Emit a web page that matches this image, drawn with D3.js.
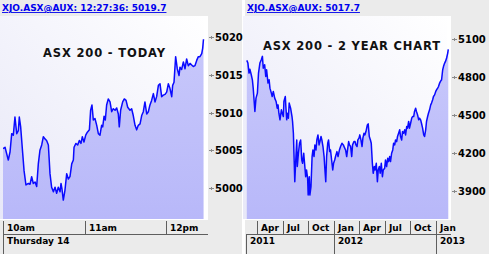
<!DOCTYPE html>
<html>
<head>
<meta charset="utf-8">
<script src="https://cdn.jsdelivr.net/npm/d3@7"></script>
<style>
body { margin: 0; background: #fff; }
svg { display: block; font-family: "DejaVu Sans", Verdana, sans-serif; }
</style>
</head>
<body>
<div id="chart"></div>
<script>
// intraday: minutes after 10:00 and index level
const todayMinutes = [0, 1.5, 3.9, 5.2, 6.4, 7.6, 8.8, 10.1, 11.3, 12.0,
	13.0, 14.5, 15.5, 16.9, 18.7, 19.9, 21.1, 22.3, 23.6, 24.8,
	26.0, 27.2, 28.5, 29.7, 30.9, 32.1, 33.4, 34.6, 35.8, 37.1,
	38.3, 39.5, 40.7, 42.0, 42.7, 43.4, 44.4, 45.6, 46.9, 48.1,
	49.3, 50.6, 51.8, 52.3, 53.7, 55.0, 56.2, 57.4, 58.4, 59.6,
	60.9, 62.1, 63.6, 64.5, 65.5, 66.5, 67.7, 69.0, 70.2, 71.4,
	72.6, 73.4, 74.4, 75.3, 76.3, 77.5, 78.8, 80.0, 81.2, 82.5,
	83.7, 84.9, 85.6, 86.6, 88.1, 89.3, 90.6, 91.8, 93.5, 94.7,
	95.9, 97.2, 98.4, 99.6, 100.9, 102.1, 103.3, 104.5, 105.8, 107.0,
	108.2, 109.4, 110.7, 111.9, 113.1, 114.4, 115.6, 116.8, 118.0, 119.3,
	120.5, 121.7, 122.9, 124.2, 124.9, 125.9, 127.1, 128.3, 129.6, 130.3,
	131.5, 132.8, 134.0, 135.2, 136.4, 137.7, 138.9, 140.1, 141.3, 142.6,
	143.8, 145.0, 146.3, 147.0, 147.6];
const todayValues = [5005.2, 5005.4, 5003.7, 5004.8, 5007.2, 5007.0, 5009.4, 5007.2, 5007.6, 5009.4,
	5008.1, 5004.6, 5002.3, 5000.4, 5000.6, 5000.5, 5001.5, 5000.6, 5000.8, 5000.2,
	5003.2, 5005.0, 5005.7, 5006.8, 5006.5, 5006.3, 5005.7, 5001.9, 5000.1, 4999.5,
	5000.1, 4999.3, 5000.1, 4999.5, 5000.6, 4999.9, 4998.4, 4999.7, 5001.9, 5001.2,
	5001.5, 5003.2, 5003.7, 5005.4, 5005.9, 5005.7, 5006.3, 5005.9, 5006.8, 5006.1,
	5007.0, 5007.4, 5007.7, 5010.3, 5011.0, 5009.0, 5009.2, 5008.3, 5007.2, 5007.0,
	5008.3, 5008.1, 5009.5, 5009.0, 5011.0, 5011.8, 5011.4, 5010.1, 5010.5, 5010.3,
	5010.6, 5009.8, 5008.1, 5010.3, 5011.4, 5011.8, 5011.6, 5010.7, 5010.3, 5010.5,
	5009.6, 5008.3, 5007.7, 5008.3, 5008.5, 5009.6, 5010.1, 5011.4, 5009.8, 5010.1,
	5011.0, 5011.6, 5012.5, 5011.4, 5012.1, 5013.6, 5013.8, 5012.1, 5012.3, 5012.4,
	5012.7, 5013.8, 5013.2, 5012.1, 5013.6, 5014.0, 5017.4, 5015.8, 5014.9, 5016.0,
	5015.7, 5016.7, 5015.8, 5017.1, 5016.2, 5016.5, 5016.3, 5016.1, 5016.2, 5016.9,
	5017.4, 5017.4, 5017.8, 5018.5, 5019.7];
const todayTicks = [5000, 5005, 5010, 5015, 5020];
const todayHourLabels = ['10am', '11am', '12pm'];
const todayDayLabel = 'Thursday 14';

// two years: date and close
const yearDates = ['2011-02-23', '2011-02-27', '2011-03-03', '2011-03-06', '2011-03-11', '2011-03-15', '2011-03-18', '2011-03-21', '2011-03-24', '2011-03-28',
	'2011-04-02', '2011-04-06', '2011-04-11', '2011-04-16', '2011-04-20', '2011-04-23', '2011-04-28', '2011-05-02', '2011-05-05', '2011-05-10',
	'2011-05-14', '2011-05-17', '2011-05-22', '2011-05-25', '2011-05-29', '2011-06-03', '2011-06-08', '2011-06-12', '2011-06-15', '2011-06-18',
	'2011-06-22', '2011-06-27', '2011-06-30', '2011-07-04', '2011-07-06', '2011-07-11', '2011-07-13', '2011-07-16', '2011-07-18', '2011-07-22',
	'2011-07-25', '2011-07-30', '2011-08-04', '2011-08-06', '2011-08-09', '2011-08-11', '2011-08-14', '2011-08-17', '2011-08-21', '2011-08-23',
	'2011-08-27', '2011-08-31', '2011-09-04', '2011-09-08', '2011-09-11', '2011-09-15', '2011-09-18', '2011-09-22', '2011-09-25', '2011-09-29',
	'2011-10-01', '2011-10-05', '2011-10-07', '2011-10-11', '2011-10-15', '2011-10-18', '2011-10-22', '2011-10-25', '2011-10-29', '2011-11-01',
	'2011-11-05', '2011-11-09', '2011-11-12', '2011-11-16', '2011-11-19', '2011-11-23', '2011-11-27', '2011-11-30', '2011-12-03', '2011-12-06',
	'2011-12-10', '2011-12-13', '2011-12-17', '2011-12-20', '2011-12-24', '2011-12-28', '2011-12-31', '2012-01-04', '2012-01-07', '2012-01-12',
	'2012-01-16', '2012-01-21', '2012-01-25', '2012-01-30', '2012-02-04', '2012-02-09', '2012-02-12', '2012-02-16', '2012-02-19', '2012-02-23',
	'2012-02-26', '2012-03-01', '2012-03-05', '2012-03-08', '2012-03-13', '2012-03-17', '2012-03-20', '2012-03-24', '2012-03-27', '2012-03-31',
	'2012-04-03', '2012-04-07', '2012-04-11', '2012-04-14', '2012-04-18', '2012-04-21', '2012-04-25', '2012-04-30', '2012-05-03', '2012-05-07',
	'2012-05-11', '2012-05-14', '2012-05-18', '2012-05-21', '2012-05-25', '2012-05-28', '2012-06-01', '2012-06-05', '2012-06-08', '2012-06-12',
	'2012-06-15', '2012-06-19', '2012-06-23', '2012-06-26', '2012-07-01', '2012-07-04', '2012-07-08', '2012-07-12', '2012-07-15', '2012-07-19',
	'2012-07-22', '2012-07-26', '2012-07-30', '2012-08-02', '2012-08-06', '2012-08-09', '2012-08-13', '2012-08-16', '2012-08-20', '2012-08-24',
	'2012-08-27', '2012-08-31', '2012-09-03', '2012-09-07', '2012-09-11', '2012-09-14', '2012-09-18', '2012-09-21', '2012-09-25', '2012-09-28',
	'2012-10-02', '2012-10-06', '2012-10-09', '2012-10-13', '2012-10-16', '2012-10-20', '2012-10-23', '2012-10-27', '2012-10-31', '2012-11-03',
	'2012-11-07', '2012-11-10', '2012-11-14', '2012-11-18', '2012-11-21', '2012-11-25', '2012-11-28', '2012-12-02', '2012-12-05', '2012-12-09',
	'2012-12-13', '2012-12-16', '2012-12-20', '2012-12-23', '2012-12-27', '2012-12-31', '2013-01-03', '2013-01-07', '2013-01-10', '2013-01-14',
	'2013-01-17', '2013-01-21', '2013-01-25', '2013-01-28', '2013-02-01', '2013-02-04', '2013-02-08', '2013-02-12', '2013-02-14'];
const yearValues = [4931, 4910, 4831, 4862, 4818, 4778, 4712, 4620, 4528, 4633,
	4673, 4831, 4910, 4936, 4963, 4870, 4897, 4804, 4857, 4752,
	4778, 4712, 4673, 4646, 4686, 4633, 4607, 4554, 4580, 4514,
	4462, 4541, 4514, 4488, 4607, 4646, 4567, 4462, 4514, 4475,
	4594, 4554, 4488, 4449, 4356, 4198, 3974, 4119, 4303, 4093,
	4198, 4277, 4303, 4145, 4119, 4198, 4119, 4013, 4066, 4000,
	3868, 4013, 3868, 3934, 4172, 4224, 4172, 4264, 4224, 4303,
	4343, 4264, 4290, 4330, 4303, 4251, 4172, 4066, 3974, 4172,
	4277, 4303, 4211, 4224, 4145, 4066, 4119, 4145, 4172, 4211,
	4172, 4224, 4251, 4277, 4264, 4238, 4224, 4172, 4224, 4290,
	4264, 4251, 4172, 4264, 4290, 4290, 4264, 4251, 4303, 4317,
	4343, 4303, 4251, 4317, 4356, 4343, 4369, 4422, 4430, 4330,
	4303, 4277, 4119, 4040, 4093, 4066, 4119, 3974, 4066, 4093,
	4040, 4119, 4013, 4066, 4079, 4145, 4093, 4158, 4132, 4172,
	4132, 4198, 4224, 4277, 4264, 4303, 4290, 4330, 4356, 4383,
	4330, 4303, 4369, 4356, 4383, 4343, 4409, 4396, 4449, 4396,
	4435, 4475, 4488, 4488, 4528, 4554, 4528, 4501, 4462, 4475,
	4462, 4435, 4396, 4343, 4330, 4383, 4449, 4488, 4514, 4541,
	4580, 4594, 4620, 4646, 4659, 4686, 4699, 4712, 4725, 4752,
	4765, 4778, 4857, 4884, 4910, 4923, 4950, 4989, 5018];
const yearTicks = [3900, 4200, 4500, 4800, 5100];

const svg = d3.select('#chart').append('svg')
	.attr('width', 489)
	.attr('height', 254);

const defs = svg.append('defs');
var bgGrad = defs.append('linearGradient').attr('id', 'plotBg')
	.attr('x1', 1).attr('y1', 0).attr('x2', 0).attr('y2', 1);
bgGrad.append('stop').attr('offset', 0).attr('stop-color', '#ffffff');
bgGrad.append('stop').attr('offset', 1).attr('stop-color', '#e8e8f8');
var areaGrad = defs.append('linearGradient').attr('id', 'areaFill')
	.attr('x1', 0).attr('y1', 0).attr('x2', 0).attr('y2', 1);
areaGrad.append('stop').attr('offset', 0).attr('stop-color', '#c8c8fb');
areaGrad.append('stop').attr('offset', 1).attr('stop-color', '#b8b8f9');

const parseDay = d3.timeParse('%Y-%m-%d');
const openTime = new Date(2013, 1, 14, 10, 0);

var todayData = todayMinutes.map((m, i) => ({ date: new Date(+openTime + m * 60000), value: todayValues[i] }));
var yearData = yearDates.map((d, i) => ({ date: parseDay(d), value: yearValues[i] }));

function drawPanel(p) {
	var g = svg.append('g');

	g.append('rect')
		.attr('x', p.grayX).attr('y', 0)
		.attr('width', p.grayW).attr('height', 254)
		.attr('fill', '#ebebeb');

	// plot background
	g.append('rect')
		.attr('x', p.bgX).attr('y', 16)
		.attr('width', p.right - p.bgX).attr('height', 204)
		.attr('fill', '#ffffff');
	g.append('rect')
		.attr('x', p.bgX).attr('y', 16)
		.attr('width', p.right - 4 - p.bgX).attr('height', 203)
		.attr('fill', 'url(#plotBg)');

	// header link
	g.append('text')
		.attr('x', p.grayX + 2).attr('y', 11)
		.attr('font-size', 9).attr('font-weight', 'bold')
		.attr('fill', '#0000ee')
		.style('text-decoration', 'underline')
		.text(p.header);

	g.append('defs').append('clipPath').attr('id', p.id + 'clip')
		.append('rect')
		.attr('x', p.left).attr('y', 16)
		.attr('width', p.right - p.left).attr('height', 203);

	var x = p.x, y = p.y;
	var plot = g.append('g').attr('clip-path', 'url(#' + p.id + 'clip)');

	var area = d3.area()
		.x(d => x(d.date))
		.y0(219)
		.y1(d => y(d.value));
	var line = d3.line()
		.x(d => x(d.date))
		.y(d => y(d.value));

	plot.append('path')
		.datum(p.data)
		.attr('d', area)
		.attr('fill', 'url(#areaFill)');
	plot.append('path')
		.datum(p.data)
		.attr('d', line)
		.attr('fill', 'none')
		.attr('stroke', '#0a0aff')
		.attr('stroke-width', 1.5)
		.attr('stroke-linejoin', 'round');

	// title
	g.append('text')
		.attr('x', p.titleX).attr('y', p.titleY)
		.attr('font-size', 11.5).attr('font-weight', 'bold')
		.attr('fill', '#111')
		.attr('textLength', p.titleW)
		.attr('lengthAdjust', 'spacing')
		.text(p.title);

	// y axis: small plus marks and labels
	var yt = g.append('g').selectAll('g')
		.data(p.ticks)
		.enter().append('g')
		.attr('transform', d => 'translate(0,' + Math.round(y(d)) + ')');
	yt.append('line')
		.attr('x1', p.right + 1).attr('x2', p.right + 6)
		.attr('y1', 0.5).attr('y2', 0.5)
		.attr('stroke', '#8a8a8a');
	yt.append('line')
		.attr('x1', p.right + 3.5).attr('x2', p.right + 3.5)
		.attr('y1', -1).attr('y2', 2)
		.attr('stroke', '#8a8a8a');
	yt.append('text')
		.attr('x', p.right + 7).attr('y', 0.5)
		.attr('dy', '0.36em')
		.attr('font-size', 10).attr('font-weight', 'bold')
		.attr('fill', '#000')
		.text(d => d);

	// x axis rows
	var axis = g.append('g').attr('stroke', '#5e5e5e').attr('shape-rendering', 'crispEdges');
	axis.append('line')
		.attr('x1', p.left).attr('x2', p.right)
		.attr('y1', 234.5).attr('y2', 234.5);
	axis.append('line')
		.attr('x1', p.left + 0.5).attr('x2', p.left + 0.5)
		.attr('y1', 234).attr('y2', 254);

	var minor = p.minorTicks.filter(d => x(d) >= p.left && x(d) <= p.right);
	axis.selectAll('.minor')
		.data(minor)
		.enter().append('line')
		.attr('x1', d => Math.round(x(d)) + 0.5).attr('x2', d => Math.round(x(d)) + 0.5)
		.attr('y1', 221).attr('y2', d => p.isMajor(d) ? 254 : 234);

	g.selectAll('.minorLabel')
		.data(minor)
		.enter().append('text')
		.attr('x', d => Math.round(x(d)) + 4).attr('y', 231)
		.attr('font-size', 9).attr('font-weight', 'bold')
		.attr('fill', '#000')
		.text((d, i) => p.minorLabel(d, i));

	g.selectAll('.majorLabel')
		.data(p.majorLabels)
		.enter().append('text')
		.attr('x', d => Math.max(Math.round(x(d.date)), p.left) + 4).attr('y', 244)
		.attr('font-size', 9).attr('font-weight', 'bold')
		.attr('fill', '#000')
		.text(d => d.label);
}

// left panel: today
var xToday = d3.scaleTime()
	.domain([openTime, new Date(2013, 1, 14, 12, 0)])
	.range([3, 166]);
var yToday = d3.scaleLinear().domain([5000, 5020]).range([188, 37]);
var hourTicks = xToday.ticks(d3.timeHour.every(1));

drawPanel({
	id: 'today',
	grayX: 0, grayW: 242, bgX: 0,
	left: 3, right: 208,
	header: 'XJO.ASX@AUX: 12:27:36: 5019.7',
	title: 'ASX 200 - TODAY', titleX: 43, titleY: 57, titleW: 122,
	data: todayData, x: xToday, y: yToday, ticks: todayTicks,
	minorTicks: hourTicks,
	isMajor: d => +d === +openTime,
	minorLabel: (d, i) => todayHourLabels[i],
	majorLabels: [{ date: openTime, label: todayDayLabel }]
});

// right panel: two years
var xYear = d3.scaleTime()
	.domain([new Date(2011, 0, 1), new Date(2013, 0, 1)])
	.range([232, 436]);
var yYear = d3.scaleLinear().domain([3900, 5100]).range([191, 39]);
var quarterTicks = xYear.ticks(d3.timeMonth.every(3));
var yearTickDates = xYear.ticks(d3.timeYear.every(1));

drawPanel({
	id: 'year',
	grayX: 245, grayW: 244, bgX: 243,
	left: 246, right: 451,
	header: 'XJO.ASX@AUX: 5017.7',
	title: 'ASX 200 - 2 YEAR CHART', titleX: 263, titleY: 50, titleW: 177,
	data: yearData, x: xYear, y: yYear, ticks: yearTicks,
	minorTicks: quarterTicks,
	isMajor: d => d.getMonth() === 0,
	minorLabel: d => d3.timeFormat('%b')(d),
	majorLabels: yearTickDates.map(d => ({ date: d, label: d3.timeFormat('%Y')(d) }))
});
</script>
</body>
</html>
